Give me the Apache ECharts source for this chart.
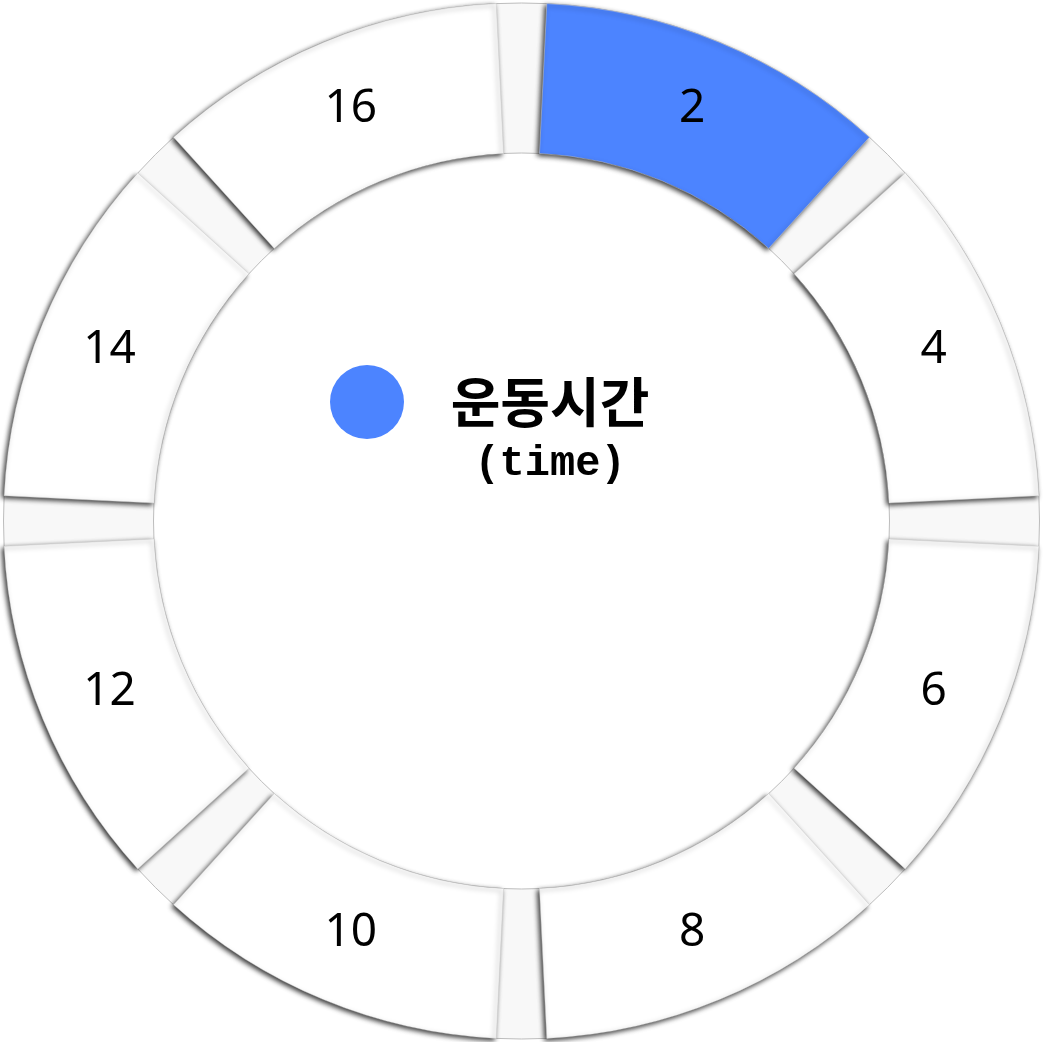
<!DOCTYPE html>
<html><head><meta charset="utf-8">
<script src="https://cdn.jsdelivr.net/npm/echarts@6/dist/echarts.min.js"></script>
<style>html,body{margin:0;padding:0;background:#fff}#c{width:1043px;height:1042px}</style>
</head><body><div id="c"></div>
<script>
const categories = ['2','4','6','8','10','12','14','16'];
const values = [1,1,1,1,1,1,1,1];
const highlighted = '2';
const legendTitle = '운동시간';
const legendSub = '(time)';

const chart = echarts.init(document.getElementById('c'));
const data = categories.map((c,i)=>({
  name:c, value:values[i],
  itemStyle:{color: c===highlighted ? '#4c84ff' : '#ffffff'}
}));
chart.setOption({
  backgroundColor:'#ffffff',
  animation:false,
  legend:{
    data:[{name:highlighted, icon:'circle', itemStyle:{color:'#4c84ff', borderWidth:0}}],
    left:325, top:304, orient:'vertical',
    itemWidth:74, itemHeight:74, selectedMode:false,
    formatter:()=>'{c| }\n{a|'+legendTitle+'}\n{b|'+legendSub+'}',
    textStyle:{
      rich:{
        a:{fontFamily:'Noto Sans CJK KR', fontSize:54, fontWeight:'bold', color:'#000', width:282, align:'center', height:62, lineHeight:62},
        b:{fontFamily:'Liberation Mono', fontSize:42, fontWeight:'bold', color:'#000', width:278, align:'center', height:62, lineHeight:62},
        c:{fontSize:20, width:282, height:62, lineHeight:62}
      }
    }
  },
  series:[
    {
      type:'pie', silent:true, radius:[368,518], center:['50%','50%'],
      label:{show:false}, labelLine:{show:false},
      itemStyle:{color:'#f8f8f8', borderColor:'#bdbdbd', borderWidth:1},
      data:[{name:'plate', value:1}], z:1, legendHoverLink:false
    },
    {
      type:'pie', radius:[368,518], center:['50%','50%'],
      startAngle:90, clockwise:true, padAngle:5.6,
      silent:true,
      itemStyle:{
        borderColor:'#cfcfcf', borderWidth:0.5,
        shadowBlur:5, shadowColor:'rgba(0,0,0,0.8)', shadowOffsetX:-2, shadowOffsetY:2
      },
      label:{show:true, position:'inside', fontFamily:'Noto Sans', fontSize:46, color:'#000'},
      labelLine:{show:false},
      emphasis:{disabled:true},
      data:data, z:2
    }
  ]
});
</script></body></html>
